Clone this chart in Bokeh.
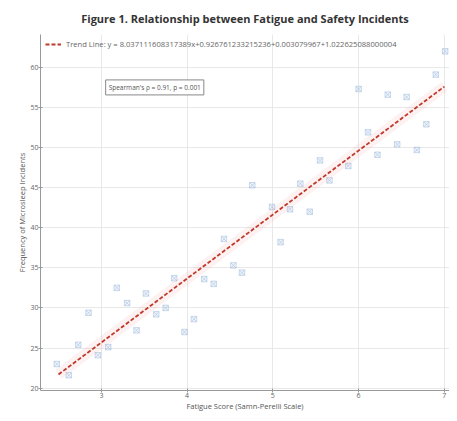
from bokeh.plotting import figure
from bokeh.models import ColumnDataSource, Label, Legend, LegendItem, FixedTicker, Range1d
from bokeh.embed import file_html
from bokeh.resources import INLINE

fatigue = [2.48, 2.62, 2.73, 2.85, 2.96, 3.08, 3.18, 3.30, 3.41, 3.52, 3.64, 3.75, 3.85,
           3.97, 4.08, 4.20, 4.31, 4.43, 4.54, 4.64, 4.76, 4.99, 5.09, 5.20, 5.32, 5.43,
           5.55, 5.66, 5.88, 6.00, 6.11, 6.22, 6.34, 6.45, 6.56, 6.68, 6.79, 6.90, 7.01]
incidents = [23.0, 21.6, 25.4, 29.4, 24.1, 25.1, 32.5, 30.6, 27.2, 31.8, 29.2, 30.0, 33.7,
             27.0, 28.6, 33.6, 33.0, 38.6, 35.3, 34.4, 45.3, 42.6, 38.2, 42.3, 45.5, 42.0,
             48.4, 45.9, 47.7, 57.3, 51.9, 49.1, 56.6, 50.4, 56.3, 49.7, 52.9, 59.1, 62.0]
trend_x = [2.5, 7.0]
trend_y = [21.7, 57.6]
x_ticks = [3, 4, 5, 6, 7]
y_ticks = [20, 25, 30, 35, 40, 45, 50, 55, 60]

title = "Figure 1. Relationship between Fatigue and Safety Incidents"
trend_label = "Trend Line: y = 8.037111608317389x+0.926761233215236+0.003079967+1.022625088000004"
stat_label = "Spearman's \u03c1 = 0.91, p = 0.001"

FONT = "Open Sans"

p = figure(width=449, height=413, output_backend="svg", toolbar_location=None,
           x_range=Range1d(2.29, 7.06), y_range=Range1d(19.7, 64.1),
           min_border_left=40, min_border_right=0, min_border_top=17, min_border_bottom=0)

p.title.text = title
p.title.text_font = FONT
p.title.text_font_size = "11px"
p.title.text_font_style = "bold"
p.title.align = "center"
p.title.text_color = "#333333"
p.title.standoff = 17

src = ColumnDataSource(dict(x=fatigue, y=incidents))
p.scatter("x", "y", source=src, marker="square_x", size=5.5,
          fill_color="#b5cdea", fill_alpha=0.2, line_color="#9ab8dc", line_alpha=0.5)

tsrc = ColumnDataSource(dict(x=trend_x, y=trend_y))
p.line("x", "y", source=tsrc, line_color="#f4a0a0", line_alpha=0.15, line_width=11)
tl = p.line("x", "y", source=tsrc, line_color="#c0392b", line_width=1.8, line_dash="4 2")

legend = Legend(items=[LegendItem(label=trend_label, renderers=[tl])], location="top_left",
                border_line_alpha=0, background_fill_alpha=0, label_text_font=FONT,
                label_text_font_size="7.6px", label_text_color="#666666",
                glyph_width=16, glyph_height=8, padding=2, margin=3, label_standoff=5)
p.add_layout(legend)

lab = Label(x=3.05, y=57.5, text=stat_label, text_font=FONT, text_font_size="6.5px",
            text_color="#555555", text_baseline="middle", border_line_color="#888888",
            border_line_width=1, background_fill_color="white", padding=3)
p.add_layout(lab)

p.xaxis.ticker = FixedTicker(ticks=x_ticks)
p.yaxis.ticker = FixedTicker(ticks=y_ticks)
p.xaxis.axis_label = "Fatigue Score (Samn-Perelli Scale)"
p.yaxis.axis_label = "Frequency of Microsleep Incidents"
for ax in (p.xaxis[0], p.yaxis[0]):
    ax.axis_label_text_font = FONT
    ax.axis_label_text_font_size = "7.5px"
    ax.axis_label_text_font_style = "normal"
    ax.axis_label_text_color = "#555555"
    ax.major_label_text_font = FONT
    ax.major_label_text_font_size = "7px"
    ax.major_label_text_color = "#666666"
    ax.axis_line_color = "#999999"
    ax.major_tick_line_color = "#999999"
    ax.major_tick_in = 2
    ax.major_tick_out = 2
    ax.minor_tick_line_color = None
    ax.major_label_standoff = 0
    ax.axis_label_standoff = 0
p.xgrid.grid_line_color = "#e8e8e8"
p.ygrid.grid_line_color = "#e8e8e8"
p.outline_line_color = None

open("out.html", "w").write(file_html(p, INLINE))
